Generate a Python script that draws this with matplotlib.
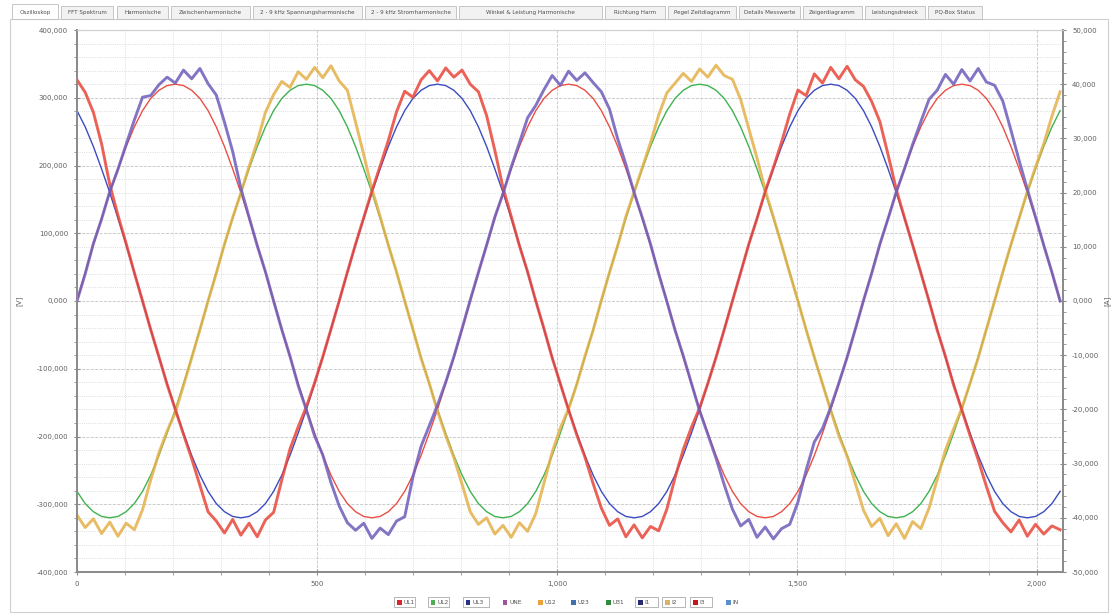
import matplotlib.pyplot as plt
import numpy as np
from matplotlib.patches import Rectangle
from matplotlib.ticker import FuncFormatter, MultipleLocator

W, H = 1112, 616

# one record = 2048 samples, values every 2048/120 samples
RECORD_LEN = 2048
N_POINTS = 121

# phase voltages [kV]
ul1_kv = [
    0, 42, 83, 122, 160, 195, 228, 257, 281, 299, 311, 318, 320, 318, 311, 299, 281, 257, 228, 195, 160, 122, 83, 42,
    0, -42, -83, -122, -160, -195, -228, -257, -281, -299, -311, -318, -320, -318, -311, -299, -281, -257, -228, -195, -160, -122, -83, -42,
    0, 42, 83, 122, 160, 195, 228, 257, 281, 299, 311, 318, 320, 318, 311, 299, 281, 257, 228, 195, 160, 122, 83, 42,
    0, -42, -83, -122, -160, -195, -228, -257, -281, -299, -311, -318, -320, -318, -311, -299, -281, -257, -228, -195, -160, -122, -83, -42,
    0, 42, 83, 122, 160, 195, 228, 257, 281, 299, 311, 318, 320, 318, 311, 299, 281, 257, 228, 195, 160, 122, 83, 42,
    0,
]
ul2_kv = [
    -281, -299, -311, -318, -320, -318, -311, -299, -281, -257, -228, -195, -160, -122, -83, -42,
    0, 42, 83, 122, 160, 195, 228, 257, 281, 299, 311, 318, 320, 318, 311, 299, 281, 257, 228, 195, 160, 122, 83, 42,
    0, -42, -83, -122, -160, -195, -228, -257, -281, -299, -311, -318, -320, -318, -311, -299, -281, -257, -228, -195, -160, -122, -83, -42,
    0, 42, 83, 122, 160, 195, 228, 257, 281, 299, 311, 318, 320, 318, 311, 299, 281, 257, 228, 195, 160, 122, 83, 42,
    0, -42, -83, -122, -160, -195, -228, -257, -281, -299, -311, -318, -320, -318, -311, -299, -281, -257, -228, -195, -160, -122, -83, -42,
    0, 42, 83, 122, 160, 195, 228, 257, 281,
]
ul3_kv = [
    281, 257, 228, 195, 160, 122, 83, 42,
    0, -42, -83, -122, -160, -195, -228, -257, -281, -299, -311, -318, -320, -318, -311, -299, -281, -257, -228, -195, -160, -122, -83, -42,
    0, 42, 83, 122, 160, 195, 228, 257, 281, 299, 311, 318, 320, 318, 311, 299, 281, 257, 228, 195, 160, 122, 83, 42,
    0, -42, -83, -122, -160, -195, -228, -257, -281, -299, -311, -318, -320, -318, -311, -299, -281, -257, -228, -195, -160, -122, -83, -42,
    0, 42, 83, 122, 160, 195, 228, 257, 281, 299, 311, 318, 320, 318, 311, 299, 281, 257, 228, 195, 160, 122, 83, 42,
    0, -42, -83, -122, -160, -195, -228, -257, -281, -299, -311, -318, -320, -318, -311, -299, -281,
]

# phase currents [kA]
i1_ka = [
    0.0, 5.0, 10.6, 15.1, 20.2, 24.3, 28.9, 33.4, 37.6, 37.9, 39.9, 41.3, 40.2, 42.6, 41.0, 42.9, 40.1, 38.0, 33.0, 27.6, 20.8, 15.5, 10.2, 5.4,
    0.0, -5.3, -10.2, -15.6, -20.1, -24.9, -28.4, -33.5, -37.8, -40.9, -42.3, -41.0, -43.8, -41.9, -43.1, -40.6, -39.8, -32.5, -26.8, -23.0, -19.2, -15.0, -10.3, -5.1,
    0.2, 5.3, 10.3, 15.5, 19.8, 24.7, 29.2, 33.8, 36.1, 39.0, 41.6, 39.8, 42.4, 40.7, 42.1, 40.3, 38.6, 35.4, 29.9, 25.2, 20.0, 15.4, 10.5, 5.0,
    -0.1, -5.4, -10.1, -15.2, -20.3, -24.6, -29.0, -33.9, -38.4, -41.5, -40.3, -43.6, -41.7, -43.9, -42.0, -41.2, -37.1, -31.2, -26.0, -23.5, -19.6, -15.1, -10.4, -5.2,
    0.1, 5.1, 10.5, 15.2, 20.1, 24.4, 28.9, 33.1, 37.2, 38.9, 41.8, 40.0, 42.7, 40.6, 42.9, 40.4, 39.8, 36.9, 31.5, 25.9, 20.6, 15.5, 10.3, 5.3, 0.0,
]
i2_ka = [
    -39.5, -41.8, -40.2, -42.9, -40.8, -43.4, -41.0, -42.2, -38.5, -33.0, -28.0, -24.0, -20.6, -15.6, -10.5, -5.3,
    0.0, 5.1, 10.5, 15.4, 19.9, 24.8, 29.4, 34.8, 38.1, 40.5, 39.4, 42.3, 40.9, 43.1, 41.2, 43.4, 40.6, 38.9, 33.0, 27.0, 20.7, 15.6, 10.3, 5.4,
    0.0, -5.2, -10.6, -15.2, -20.3, -24.8, -28.9, -33.8, -38.9, -41.2, -40.0, -43.0, -41.4, -43.6, -40.9, -42.5, -39.2, -33.6, -27.9, -23.4, -19.9, -15.4, -10.2, -5.4,
    0.1, 5.3, 10.2, 15.6, 20.1, 24.6, 29.2, 34.3, 38.4, 40.2, 42.0, 40.5, 42.8, 41.3, 43.5, 41.6, 40.9, 37.2, 31.8, 26.4, 20.5, 15.5, 10.4, 5.1,
    0.0, -5.3, -10.4, -15.3, -20.2, -24.9, -28.6, -33.6, -38.6, -41.6, -40.1, -43.3, -41.1, -43.8, -40.7, -42.0, -38.2, -32.9, -27.5, -23.6, -19.8, -15.2, -10.5, -5.2,
    0.0, 5.3, 10.4, 15.3, 20.2, 24.7, 29.0, 34.1, 38.6,
]
i3_ka = [
    40.8, 38.5, 34.8, 29.0, 21.5, 15.8, 10.6, 5.2,
    0.0, -5.3, -10.3, -15.4, -20.0, -24.6, -29.1, -34.0, -38.9, -40.6, -42.8, -40.3, -43.2, -41.0, -43.5, -40.4, -39.0, -33.0, -27.3, -23.2, -19.5, -15.1, -10.3, -5.2,
    0.0, 5.3, 10.5, 15.4, 20.3, 24.9, 29.6, 34.9, 38.7, 37.6, 40.8, 42.5, 40.6, 43.0, 41.3, 42.6, 40.0, 38.6, 34.2, 27.8, 20.9, 15.6, 10.2, 5.4,
    0.0, -5.1, -10.5, -15.3, -20.1, -24.7, -28.8, -33.7, -38.2, -41.4, -40.2, -43.5, -41.3, -43.7, -41.6, -42.4, -38.4, -32.6, -27.4, -23.3, -19.7, -15.2, -10.4, -5.3,
    0.0, 5.2, 10.5, 15.2, 20.2, 24.6, 29.3, 34.5, 38.9, 37.9, 41.9, 40.2, 43.1, 41.0, 43.3, 40.8, 39.6, 36.8, 33.1, 27.0, 20.6, 15.4, 10.3, 5.2,
    0.0, -5.4, -10.2, -15.5, -20.1, -24.8, -29.3, -34.2, -38.8, -40.9, -42.6, -40.4, -43.4, -41.2, -43.0, -41.5, -42.2,
]

tab_names = [
    "Oszilloskop", "FFT Spektrum", "Harmonische", "Zwischenharmonische",
    "2 - 9 kHz Spannungsharmonische", "2 - 9 kHz Stromharmonische",
    "Winkel & Leistung Harmonische", "Richtung Harm", "Pegel Zeitdiagramm",
    "Details Messwerte", "Zeigerdiagramm", "Leistungsdreieck", "PQ-Box Status",
]
legend_names = ["UL1", "UL2", "UL3", "UNE", "U12", "U23", "U31", "I1", "I2", "I3", "IN"]

# layout / style
TAB_EDGES = [(12, 58), (61, 113), (117, 168), (171, 250), (253, 362), (365, 456),
             (459, 602), (605, 665), (668, 736), (739, 800), (803, 862), (865, 925), (928, 982)]
LEGEND_X = [394, 428, 463, 500, 535, 568, 603, 635, 662, 690, 723]
LEGEND_W = [21, 21, 26, 20, 19, 22, 22, 23, 23, 22, 18]
LEGEND_BOXED = [True, True, True, False, False, False, False, True, True, True, False]
LEGEND_COLORS = ["#d9262b", "#4caf50", "#27318b", "#a0529d", "#e9a23b", "#3e6fb0",
                 "#2e8b3d", "#272a6e", "#d9b26a", "#c8161d", "#5a8fc8"]

TICK_GREY = "#5f5f5f"
SPINE_GREY = "#8c8c8c"


def fx(x):
    return x / W


def fy(y):
    return 1 - y / H


def add_box(fig, x0, y0, x1, y1, **kwargs):
    fig.add_artist(Rectangle((fx(x0), fy(y1)), (x1 - x0) / W, (y1 - y0) / H,
                             transform=fig.transFigure, **kwargs))


def decimal_comma(value, _pos=None):
    return f"{value / 1000:.3f}".replace(".", ",")


fig = plt.figure(figsize=(W / 100, H / 100), dpi=100)
fig.patch.set_facecolor("white")

# panel frame and tab strip (kept behind the axes)
add_box(fig, 10, 19, 1108, 612, facecolor="none", edgecolor="#cfcfcf", lw=0.8, zorder=-5)
for name, (x0, x1) in zip(tab_names, TAB_EDGES):
    active = name == "Oszilloskop"
    add_box(fig, x0, 4 if active else 6, x1, 19,
            facecolor="white" if active else "#f2f2f2", edgecolor="#bdbdbd", lw=0.6, zorder=-5)
    fig.text(fx((x0 + x1) / 2), fy(12.5), name, fontsize=4.1, color="#505050",
             ha="center", va="center")

ax = fig.add_axes([fx(77), fy(572), (1063 - 77) / W, (572 - 30) / H])
ax2 = ax.twinx()

x = np.linspace(0, RECORD_LEN, N_POINTS)

ax.plot(x, np.array(ul1_kv) * 1000, color="#ea4f45", lw=1.0)
ax.plot(x, np.array(ul2_kv) * 1000, color="#3fb34f", lw=1.0)
ax.plot(x, np.array(ul3_kv) * 1000, color="#3b4cc0", lw=1.0)

ax2.plot(x, np.array(i2_ka) * 1000, color="#e4b04a", lw=2.1, alpha=0.85)
ax2.plot(x, np.array(i3_ka) * 1000, color="#e8463a", lw=2.1, alpha=0.85)
ax2.plot(x, np.array(i1_ka) * 1000, color="#6f5cba", lw=2.1, alpha=0.85)

ax.set_xlim(0, 2054)
ax.set_ylim(-400000, 400000)
ax2.set_ylim(-50000, 50000)

ax.xaxis.set_major_locator(MultipleLocator(500))
ax.xaxis.set_minor_locator(MultipleLocator(100))
ax.yaxis.set_major_locator(MultipleLocator(100000))
ax.yaxis.set_minor_locator(MultipleLocator(20000))
ax2.yaxis.set_major_locator(MultipleLocator(10000))
ax2.yaxis.set_minor_locator(MultipleLocator(2000))

ax.xaxis.set_major_formatter(FuncFormatter(lambda v, _p: f"{int(v):,}"))
ax.yaxis.set_major_formatter(FuncFormatter(decimal_comma))
ax2.yaxis.set_major_formatter(FuncFormatter(decimal_comma))

ax.grid(which="major", ls="--", color="#c4c4c4", lw=0.6)
ax.grid(which="minor", ls=":", color="#d2d2d2", lw=0.6)
ax.set_axisbelow(True)

for a in (ax, ax2):
    a.tick_params(which="major", direction="inout", length=5, width=0.8,
                  color=SPINE_GREY, labelsize=5, labelcolor=TICK_GREY, pad=4)
    a.tick_params(which="minor", direction="out", length=2.5, width=0.6, color=SPINE_GREY)
    for side, spine in a.spines.items():
        spine.set_color(SPINE_GREY if side != "top" else "#d0d0d0")
        spine.set_linewidth(1.4 if side != "top" else 0.8)

ax.set_ylabel("[V]", fontsize=5, color=TICK_GREY, labelpad=10)
ax2.set_ylabel("[A]", fontsize=5, color=TICK_GREY, labelpad=3)

# channel legend under the plot
for name, x0, w, boxed, color in zip(legend_names, LEGEND_X, LEGEND_W, LEGEND_BOXED, LEGEND_COLORS):
    if boxed:
        add_box(fig, x0, 597, x0 + w, 607, facecolor="none", edgecolor="#9a9a9a", lw=0.5)
    add_box(fig, x0 + 2.5, 599.5, x0 + 7.5, 604.5, facecolor=color, edgecolor="none")
    fig.text(fx(x0 + 9.5), fy(602), name, fontsize=4.2, color="#505050", va="center")

fig.savefig("out.png", dpi=100)
